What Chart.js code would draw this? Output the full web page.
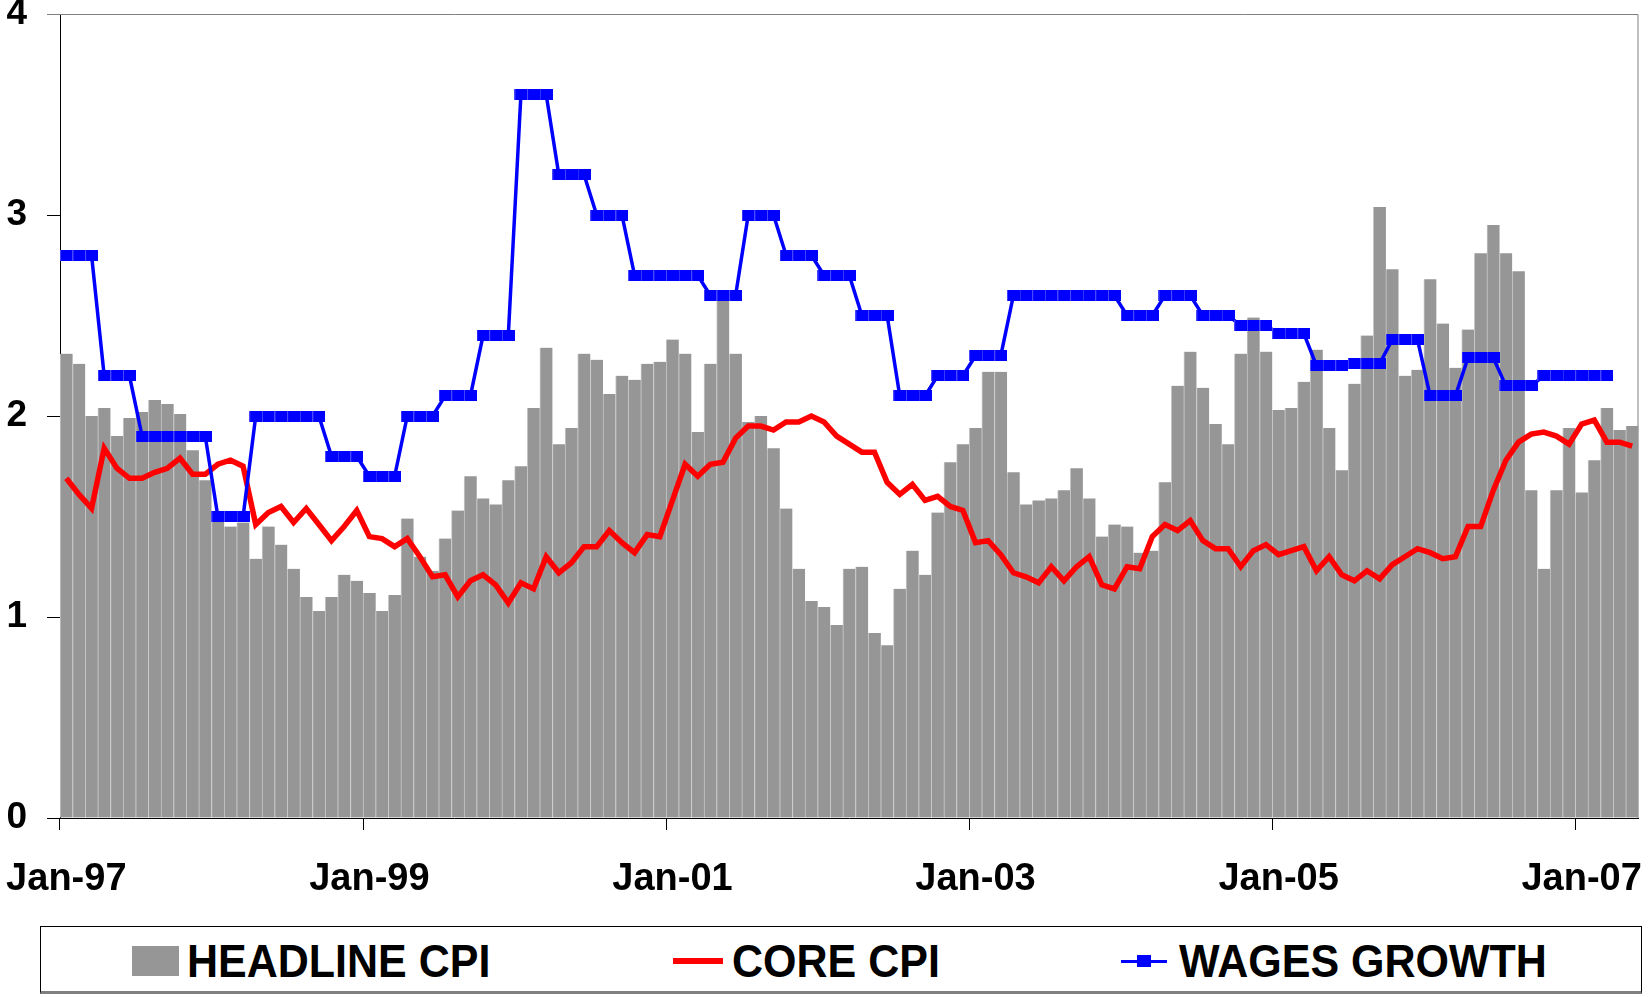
<!DOCTYPE html>
<html>
<head>
<meta charset="utf-8">
<title>Headline CPI, core CPI and wages growth</title>
<script src="https://cdn.jsdelivr.net/npm/chart.js@4.4.1/dist/chart.umd.min.js"></script>
<style>
  html, body { margin: 0; padding: 0; background: #fff; }
  #wrap { position: relative; width: 1648px; height: 997px; }
  #cpi-chart { position: absolute; left: 0; top: 0; }
  #legend {
    position: absolute; left: 40px; top: 926px; width: 1600px; height: 64px;
    border: 1px solid #000; border-bottom: 3px solid #808080; background: #fff;
    font: bold 43px "Liberation Sans", Arial, sans-serif; color: #000;
  }
  #legend span { position: absolute; }
  #legend .txt { top: 13px; line-height: 43px; white-space: nowrap; transform: scaleY(1.06); }
</style>
</head>
<body>
<div id="wrap">
  <canvas id="cpi-chart" width="1648" height="900"></canvas>
  <div id="legend"></div>
</div>
<script>
// monthly, Jan-97 .. May-07
const startYear = 1997;
const monthCount = 125;
const monthNames = ['Jan', 'Feb', 'Mar', 'Apr', 'May', 'Jun', 'Jul', 'Aug', 'Sep', 'Oct', 'Nov', 'Dec'];
const months = [];
for (let i = 0; i < monthCount; i++) {
    const yy = String((startYear + Math.floor(i / 12)) % 100).padStart(2, '0');
    months.push(monthNames[i % 12] + '-' + yy);
}
const tickEvery = 24;   // Jan-97, Jan-99, ... Jan-07

const headlineCpi = [
    2.31, 2.26, 2.00, 2.04, 1.90, 1.99, 2.02, 2.08, 2.06, 2.01, 1.83, 1.68,
    1.49, 1.45, 1.47, 1.29, 1.45, 1.36, 1.24, 1.10, 1.03, 1.10, 1.21, 1.18,
    1.12, 1.03, 1.11, 1.49, 1.30, 1.23, 1.39, 1.53, 1.70, 1.59, 1.56, 1.68,
    1.75, 2.04, 2.34, 1.86, 1.94, 2.31, 2.28, 2.11, 2.20, 2.18, 2.26, 2.27,
    2.38, 2.31, 1.92, 2.26, 2.60, 2.31, 1.97, 2.00, 1.84, 1.54, 1.24, 1.08,
    1.05, 0.96, 1.24, 1.25, 0.92, 0.86, 1.14, 1.33, 1.21, 1.52, 1.77, 1.86,
    1.94, 2.22, 2.22, 1.72, 1.56, 1.58, 1.59, 1.63, 1.74, 1.59, 1.40, 1.46,
    1.45, 1.32, 1.33, 1.67, 2.15, 2.32, 2.14, 1.96, 1.86, 2.31, 2.49, 2.32,
    2.03, 2.04, 2.17, 2.33, 1.94, 1.73, 2.16, 2.40, 3.04, 2.73, 2.20, 2.23,
    2.68, 2.46, 2.24, 2.43, 2.81, 2.95, 2.81, 2.72, 1.63, 1.24, 1.63, 1.94,
    1.62, 1.78, 2.04, 1.93, 1.95
];

const coreCpi = [
    1.69, 1.61, 1.54, 1.84, 1.74, 1.69, 1.69, 1.72, 1.74, 1.79, 1.71, 1.71,
    1.76, 1.78, 1.75, 1.46, 1.52, 1.55, 1.47, 1.54, 1.46, 1.38, 1.45, 1.53,
    1.40, 1.39, 1.35, 1.39, 1.30, 1.20, 1.21, 1.10, 1.18, 1.21, 1.16, 1.07,
    1.17, 1.14, 1.30, 1.22, 1.27, 1.35, 1.35, 1.43, 1.37, 1.32, 1.41, 1.40,
    1.58, 1.76, 1.70, 1.76, 1.77, 1.89, 1.95, 1.95, 1.93, 1.97, 1.97, 2.00,
    1.97, 1.90, 1.86, 1.82, 1.82, 1.67, 1.61, 1.66, 1.58, 1.60, 1.55, 1.53,
    1.37, 1.38, 1.31, 1.22, 1.20, 1.17, 1.25, 1.18, 1.25, 1.30, 1.16, 1.14,
    1.25, 1.24, 1.40, 1.46, 1.43, 1.48, 1.38, 1.34, 1.34, 1.25, 1.33, 1.36,
    1.31, 1.33, 1.35, 1.23, 1.30, 1.21, 1.18, 1.23, 1.19, 1.26, 1.30, 1.34,
    1.32, 1.29, 1.30, 1.45, 1.45, 1.63, 1.78, 1.87, 1.91, 1.92, 1.90, 1.86,
    1.96, 1.98, 1.87, 1.87, 1.85
];

const wagesGrowth = [
    2.8, 2.8, 2.8, 2.2, 2.2, 2.2, 1.9, 1.9, 1.9, 1.9, 1.9, 1.9,
    1.5, 1.5, 1.5, 2.0, 2.0, 2.0, 2.0, 2.0, 2.0, 1.8, 1.8, 1.8,
    1.7, 1.7, 1.7, 2.0, 2.0, 2.0, 2.1, 2.1, 2.1, 2.4, 2.4, 2.4,
    3.6, 3.6, 3.6, 3.2, 3.2, 3.2, 3.0, 3.0, 3.0, 2.7, 2.7, 2.7,
    2.7, 2.7, 2.7, 2.6, 2.6, 2.6, 3.0, 3.0, 3.0, 2.8, 2.8, 2.8,
    2.7, 2.7, 2.7, 2.5, 2.5, 2.5, 2.1, 2.1, 2.1, 2.2, 2.2, 2.2,
    2.3, 2.3, 2.3, 2.6, 2.6, 2.6, 2.6, 2.6, 2.6, 2.6, 2.6, 2.6,
    2.5, 2.5, 2.5, 2.6, 2.6, 2.6, 2.5, 2.5, 2.5, 2.45, 2.45, 2.45,
    2.41, 2.41, 2.41, 2.25, 2.25, 2.25, 2.26, 2.26, 2.26, 2.38, 2.38, 2.38,
    2.1, 2.1, 2.1, 2.29, 2.29, 2.29, 2.15, 2.15, 2.15, 2.2, 2.2, 2.2,
    2.2, 2.2, 2.2, null, null
];

const yTicks = [0, 1, 2, 3, 4];

const FONT = '"Liberation Sans", Arial, sans-serif';

// wide flat square used as the wages marker
function makeMarker() {
    const c = document.createElement('canvas');
    c.width = 13;
    c.height = 11;
    const g = c.getContext('2d');
    g.fillStyle = '#0000ff';
    g.fillRect(0, 0, 13, 11);
    g.fillStyle = 'rgba(120,120,255,0.6)';
    g.fillRect(0, 0, 1, 11);
    return c;
}

// grey frame on top and right of the plot
const framePlugin = {
    id: 'frame',
    beforeDatasetsDraw(chart) {
        const { ctx, chartArea: a } = chart;
        ctx.save();
        ctx.strokeStyle = '#808080';
        ctx.lineWidth = 1;
        ctx.beginPath();
        ctx.moveTo(a.left, a.top + 0.5);
        ctx.lineTo(a.right - 0.5, a.top + 0.5);
        ctx.lineTo(a.right - 0.5, a.bottom);
        ctx.stroke();
        ctx.restore();
    }
};

const config = {
    type: 'bar',
    data: {
        labels: months,
        datasets: [
            {
                label: 'HEADLINE CPI',
                data: headlineCpi,
                backgroundColor: '#969696',
                borderColor: '#c8c8c8',
                borderWidth: { left: 1, top: 0, right: 0, bottom: 0 },
                borderSkipped: false,
                barPercentage: 1,
                categoryPercentage: 1,
                order: 3
            },
            {
                type: 'line',
                label: 'CORE CPI',
                data: coreCpi,
                borderColor: '#ff0000',
                borderWidth: 5.5,
                pointRadius: 0,
                tension: 0,
                order: 2
            },
            {
                type: 'line',
                label: 'WAGES GROWTH',
                data: wagesGrowth,
                borderColor: '#0000ff',
                borderWidth: 3.5,
                pointStyle: makeMarker(),
                pointRadius: 6,
                tension: 0,
                order: 1
            }
        ]
    },
    options: {
        responsive: false,
        animation: false,
        layout: { padding: { top: 14, right: 7, bottom: 0, left: 0 } },
        plugins: {
            legend: { display: false },
            tooltip: { enabled: false }
        },
        scales: {
            x: {
                offset: true,
                grid: {
                    offset: true,
                    drawOnChartArea: false,
                    tickLength: 12,
                    tickColor: (c) => (c.index % tickEvery === 0 ? '#000' : 'rgba(0,0,0,0)')
                },
                border: { color: '#000', width: 1 },
                ticks: {
                    autoSkip: false,
                    maxRotation: 0,
                    minRotation: 0,
                    padding: 27,
                    color: '#000',
                    font: { family: FONT, size: 38, weight: 'bold' },
                    callback: (v, i) => (i % tickEvery === 0 ? months[i] : '')
                },
                afterFit: (s) => { s.height = 82; s.paddingLeft = 0; s.paddingRight = 0; }
            },
            y: {
                min: 0,
                max: 4,
                afterBuildTicks: (s) => { s.ticks = yTicks.map((v) => ({ value: v })); },
                grid: {
                    drawOnChartArea: false,
                    tickLength: 13,
                    tickColor: (c) => (c.tick && c.tick.value === 4 ? '#808080' : '#000')
                },
                border: { color: '#000', width: 1 },
                ticks: {
                    padding: 20,
                    color: '#000',
                    font: { family: FONT, size: 37, weight: 'bold' }
                },
                afterFit: (s) => { s.width = 60; s.paddingTop = 0; s.paddingBottom = 0; }
            }
        }
    },
    plugins: [framePlugin]
};

const ctx = document.getElementById('cpi-chart').getContext('2d');
const cpiChart = new Chart(ctx, config);

// html legend in a framed box under the chart
const legendBox = document.getElementById('legend');
const legendSpots = [
    { icon: 'left:91px;top:19px;width:47px;height:30px;background:#969696;', text: 146 },
    { icon: 'left:632px;top:31px;width:50px;height:6px;background:#ff0000;', text: 691 },
    { icon: 'left:1080px;top:33px;width:46px;height:3px;background:#0000ff;', text: 1138,
      extra: 'left:1096px;top:28px;width:14px;height:12px;background:#0000ff;' }
];
cpiChart.data.datasets.forEach((ds, i) => {
    const spot = legendSpots[i];
    const icon = document.createElement('span');
    icon.style.cssText = spot.icon;
    legendBox.appendChild(icon);
    if (spot.extra) {
        const mark = document.createElement('span');
        mark.style.cssText = spot.extra;
        legendBox.appendChild(mark);
    }
    const txt = document.createElement('span');
    txt.className = 'txt';
    txt.style.left = spot.text + 'px';
    txt.textContent = ds.label;
    legendBox.appendChild(txt);
});
</script>
</body>
</html>
